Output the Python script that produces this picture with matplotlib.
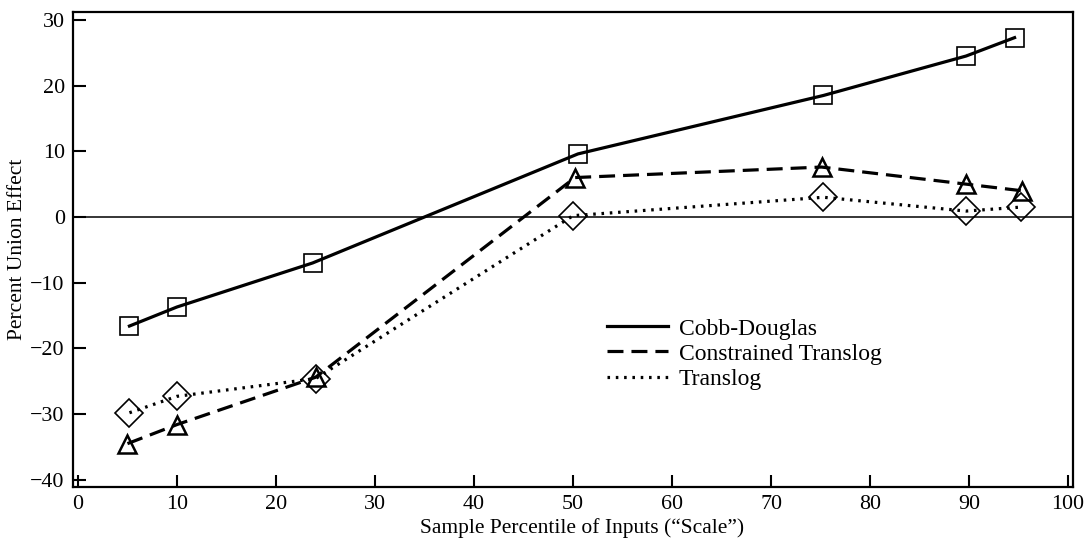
import matplotlib
matplotlib.use("Agg")
import matplotlib.pyplot as plt

# ---------------------------------------------------------------------------
# Dati (percentile del campione -> effetto sindacale %)
# ---------------------------------------------------------------------------
CD_X = [5.2, 10.0, 23.7, 50.5, 75.3, 89.7, 94.6]
CD_Y = [-16.6, -13.7, -7.0, 9.6, 18.5, 24.5, 27.3]

CT_X = [5.0, 10.0, 24.0, 50.2, 75.1, 89.7, 95.3]
CT_Y = [-34.5, -31.6, -24.4, 6.0, 7.6, 5.0, 4.0]

TL_X = [5.2, 10.0, 24.0, 50.0, 75.3, 89.7, 95.2]
TL_Y = [-29.8, -27.3, -24.6, 0.2, 3.0, 0.9, 1.5]

LABELS = ["Cobb-Douglas", "Constrained Translog", "Translog"]

X_TICKS = [0, 10, 20, 30, 40, 50, 60, 70, 80, 90, 100]
Y_TICKS = [-40, -30, -20, -10, 0, 10, 20, 30]
Y_TICK_LABELS = ["\u221240", "\u221230", "\u221220", "\u221210", "0", "10", "20", "30"]

plt.rcParams["font.family"] = ["Liberation Serif", "DejaVu Serif"]

fig = plt.figure(figsize=(10.88, 5.39), dpi=100)
ax = fig.add_axes([0.0671, 0.0965, 0.9191, 0.8812])

ax.axhline(0, color="black", linewidth=1.1, zorder=1)

ax.plot(CD_X, CD_Y, color="black", linewidth=2.3, linestyle="-", label=LABELS[0], zorder=3)
ax.plot(CT_X, CT_Y, color="black", linewidth=2.3, linestyle=(0, (5, 2.5)), label=LABELS[1], zorder=3)
ax.plot(TL_X, TL_Y, color="black", linewidth=2.3, linestyle=(0, (0.8, 1.8)), label=LABELS[2], zorder=3)

# marker aperti sopra le linee
ax.plot(CD_X, CD_Y, linestyle="none", marker="s", markersize=13, markerfacecolor="none",
        markeredgecolor="black", markeredgewidth=1.2, zorder=4)
ax.plot(CT_X, CT_Y, linestyle="none", marker="^", markersize=13.5, markerfacecolor="none",
        markeredgecolor="black", markeredgewidth=1.8, zorder=4)
ax.plot(TL_X, TL_Y, linestyle="none", marker="D", markersize=14, markerfacecolor="none",
        markeredgecolor="black", markeredgewidth=1.2, zorder=4)

ax.set_xlim(-0.5, 100.5)
ax.set_ylim(-41.1, 31.2)
ax.set_xticks(X_TICKS)
ax.set_yticks(Y_TICKS)
ax.set_yticklabels(Y_TICK_LABELS)
ax.tick_params(direction="in", length=9, width=1.5, labelsize=15.8, pad=6)

for sp in ax.spines.values():
    sp.set_linewidth(1.6)

ax.set_xlabel("Sample Percentile of Inputs (\u201cScale\u201d)", fontsize=15.5, labelpad=3, x=0.509)
ax.set_ylabel("Percent Union Effect", fontsize=15.5, labelpad=2)

ax.legend(loc="center left", bbox_to_anchor=(0.534, 0.28), frameon=False,
          fontsize=17, handlelength=2.6, handletextpad=0.45, labelspacing=0.15,
          borderpad=0, borderaxespad=0)

fig.savefig("out.png", dpi=100)
